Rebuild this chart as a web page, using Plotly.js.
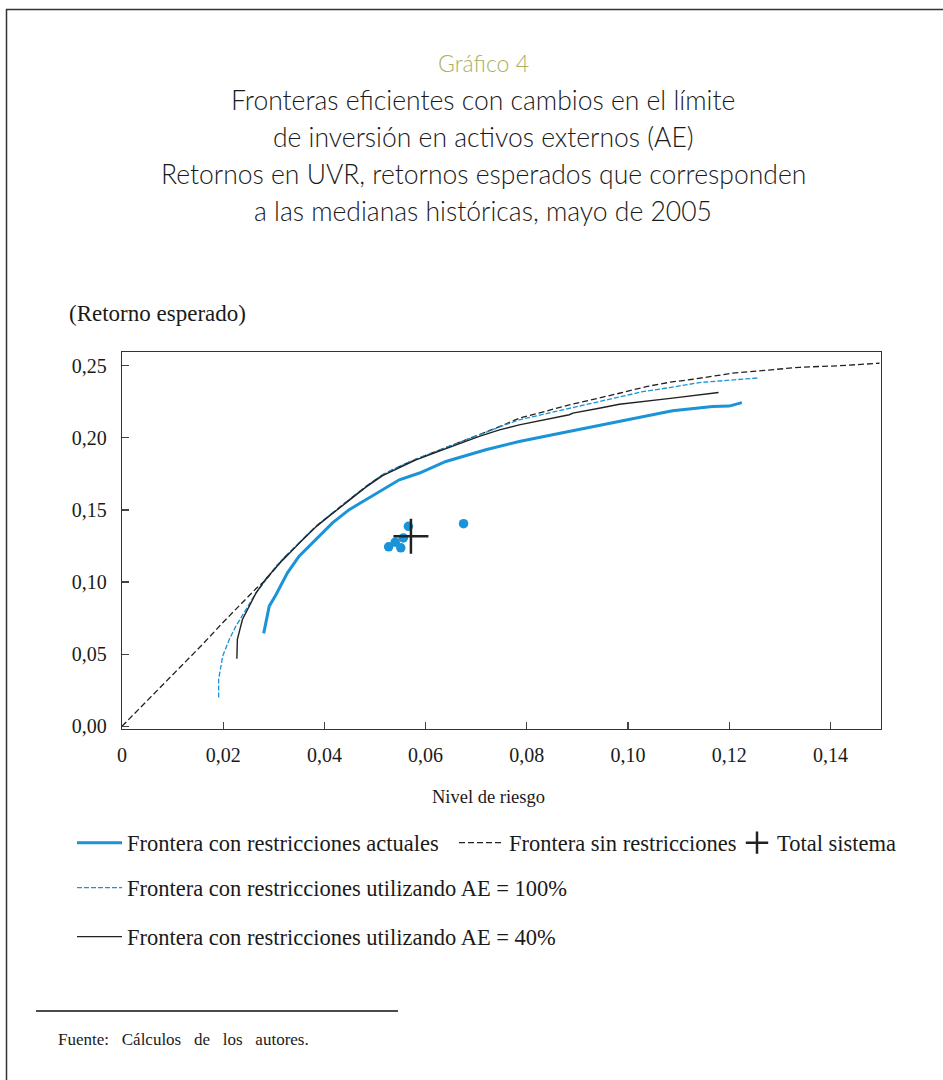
<!DOCTYPE html>
<html>
<head>
<meta charset="utf-8">
<script src="https://cdn.plot.ly/plotly-3.0.1.min.js"></script>
<style>html,body{margin:0;padding:0;background:#fff;}#chart{width:943px;height:1080px;}</style>
</head>
<body>
<div id="chart"></div>
<script>
// ---- Data ----
const sinX = [0, 0.0159, 0.0199, 0.0265, 0.0285, 0.0317, 0.0350, 0.0383, 0.0416, 0.0449, 0.0482, 0.0515, 0.0548, 0.0581, 0.0627, 0.0653, 0.0706, 0.0746, 0.0785, 0.0884, 0.0983, 0.1036, 0.1082, 0.1128, 0.1207, 0.1273, 0.1339, 0.1418, 0.1497];
const sinY = [0, 0.0567, 0.0718, 0.0955, 0.1017, 0.1156, 0.1271, 0.1386, 0.1479, 0.1571, 0.1663, 0.1744, 0.1801, 0.1852, 0.1915, 0.1950, 0.2021, 0.2077, 0.2136, 0.2228, 0.2309, 0.2355, 0.2385, 0.2406, 0.2448, 0.2466, 0.2489, 0.2500, 0.2517];

const ae100X = [0.0191, 0.0191, 0.0199, 0.0212, 0.0225, 0.0245, 0.0265, 0.0285, 0.0304, 0.0317, 0.0350, 0.0383, 0.0416, 0.0449, 0.0482, 0.0515, 0.0548, 0.0581, 0.0627, 0.0653, 0.0706, 0.0746, 0.0785, 0.0884, 0.0983, 0.1029, 0.1082, 0.1141, 0.1256];
const ae100Y = [0.0199, 0.0325, 0.0487, 0.0602, 0.0694, 0.0810, 0.0925, 0.1017, 0.1110, 0.1156, 0.1271, 0.1386, 0.1479, 0.1571, 0.1663, 0.1744, 0.1801, 0.1852, 0.1915, 0.1950, 0.2021, 0.2075, 0.2125, 0.2206, 0.2286, 0.2320, 0.2348, 0.2383, 0.2415];

const ae40X = [0.0227, 0.0228, 0.0238, 0.0252, 0.0265, 0.0285, 0.0317, 0.0350, 0.0383, 0.0416, 0.0449, 0.0482, 0.0515, 0.0548, 0.0581, 0.0627, 0.0653, 0.0706, 0.0746, 0.0785, 0.0884, 0.0891, 0.0943, 0.0983, 0.1088, 0.1179];
const ae40Y = [0.0468, 0.0602, 0.0740, 0.0833, 0.0925, 0.1025, 0.1150, 0.1268, 0.1382, 0.1475, 0.1567, 0.1658, 0.1738, 0.1795, 0.1847, 0.1908, 0.1943, 0.2010, 0.2055, 0.2090, 0.2160, 0.2171, 0.2205, 0.2233, 0.2275, 0.2314];

const actX = [0.0280, 0.0285, 0.0291, 0.0304, 0.0327, 0.0350, 0.0383, 0.0416, 0.0449, 0.0482, 0.0515, 0.0548, 0.0588, 0.0640, 0.0719, 0.0785, 0.0851, 0.0917, 0.0996, 0.1088, 0.1167, 0.1200, 0.1225];
const actY = [0.0644, 0.0740, 0.0833, 0.0910, 0.1064, 0.1179, 0.1294, 0.1410, 0.1502, 0.1571, 0.1640, 0.1709, 0.1756, 0.1836, 0.1917, 0.1974, 0.2021, 0.2067, 0.2125, 0.2187, 0.2217, 0.2220, 0.2244];

const fundX = [0.0527, 0.0540, 0.0551, 0.0556, 0.0566, 0.0675];
const fundY = [0.1244, 0.1276, 0.1237, 0.1306, 0.1386, 0.1405];

const totalX = [0.0571];
const totalY = [0.1317];

const seriesNames = [
  "Frontera con restricciones actuales",
  "Frontera sin restricciones",
  "Total sistema",
  "Frontera con restricciones utilizando AE = 100%",
  "Frontera con restricciones utilizando AE = 40%"
];
const xTickVals = [0, 0.02, 0.04, 0.06, 0.08, 0.10, 0.12, 0.14];
const xTickText = ["0", "0,02", "0,04", "0,06", "0,08", "0,10", "0,12", "0,14"];
const yTickVals = [0, 0.05, 0.10, 0.15, 0.20, 0.25];
const yTickText = ["0,00", "0,05", "0,10", "0,15", "0,20", "0,25"];
const titleLines = [
  "Gráfico 4",
  "Fronteras eficientes con cambios en el límite",
  "de inversión en activos externos (AE)",
  "Retornos en UVR, retornos esperados que corresponden",
  "a las medianas históricas, mayo de 2005"
];

// ---- Layout helpers (pixel -> paper) ----
const L = 122, R = 881, T = 352, B = 729;
const px = v => (v - L) / (R - L);
const py = v => (B - v) / (B - T);

const BLUE = "#1a93d8";
const serif = "Liberation Serif, Times New Roman, serif";
const sans = "Lato, Open Sans, sans-serif";

const traces = [
  {x: sinX, y: sinY, mode: "lines", name: seriesNames[1], legend: "legend4",
   line: {color: "#222", width: 1.3, dash: "6px,3px"}},
  {x: ae100X, y: ae100Y, mode: "lines", name: seriesNames[3], legend: "legend2",
   line: {color: BLUE, width: 1.3, dash: "5px,2px"}},
  {x: ae40X, y: ae40Y, mode: "lines", name: seriesNames[4], legend: "legend3",
   line: {color: "#222", width: 1.4}},
  {x: actX, y: actY, mode: "lines", name: seriesNames[0], legend: "legend",
   line: {color: BLUE, width: 3}},
  {x: fundX, y: fundY, mode: "markers", showlegend: false,
   marker: {color: BLUE, size: 9.5, symbol: "circle"}},
  {x: totalX, y: totalY, mode: "markers", name: seriesNames[2], legend: "legend5",
   marker: {color: "#222", size: 25, symbol: "cross-thin-open", line: {color: "#222", width: 2.5}}}
];

const annotations = [];
const titleY = [63, 100, 137, 174, 211];
titleLines.forEach((t, i) => {
  annotations.push({xref: "paper", yref: "paper", x: px(483), y: py(titleY[i]), xanchor: "center", yanchor: "middle",
    text: t, showarrow: false,
    font: {family: sans, size: i === 0 ? 23 : 26.5, weight: 300, color: i === 0 ? "#a8b061" : "#1a1a1a"}});
});
annotations.push({xref: "paper", yref: "paper", x: px(67), y: py(313), xanchor: "left", yanchor: "middle",
  text: "(Retorno esperado)", showarrow: false, font: {family: serif, size: 23, color: "#1a1a1a"}});
annotations.push({xref: "paper", yref: "paper", x: px(488), y: py(797), xanchor: "center", yanchor: "middle",
  text: "Nivel de riesgo", showarrow: false, font: {family: serif, size: 18.5, color: "#1a1a1a"}});
annotations.push({xref: "paper", yref: "paper", x: px(56), y: py(1039), xanchor: "left", yanchor: "middle",
  text: "Fuente:&nbsp;&nbsp; Cálculos&nbsp;&nbsp; de&nbsp;&nbsp; los&nbsp;&nbsp; autores.", showarrow: false, font: {family: serif, size: 17, color: "#1a1a1a"}});

const shapes = [
  {type: "line", xref: "paper", yref: "paper", x0: px(6.5), x1: px(6.5), y0: py(9), y1: py(1080), line: {color: "#333", width: 1.5}},
  {type: "line", xref: "paper", yref: "paper", x0: px(6), x1: px(943), y0: py(9.5), y1: py(9.5), line: {color: "#333", width: 1.5}},
  {type: "line", xref: "paper", yref: "paper", x0: px(36), x1: px(398), y0: py(1011), y1: py(1011), line: {color: "#111", width: 1.3}}
];

const legendBase = {orientation: "h", xanchor: "left", yanchor: "middle", bgcolor: "rgba(0,0,0,0)", itemwidth: 45,
  font: {family: serif, size: 22.5, color: "#1a1a1a"}, itemclick: false, itemdoubleclick: false, traceorder: "normal"};

const layout = {
  width: 943, height: 1080,
  margin: {l: L, r: 943 - R, t: T, b: 1080 - B, pad: 0},
  paper_bgcolor: "#fff", plot_bgcolor: "#fff",
  separators: ",.",
  font: {family: serif, size: 20, color: "#1a1a1a"},
  xaxis: {range: [0, 0.15], tickvals: xTickVals, ticktext: xTickText, ticks: "inside", ticklen: 7, tickwidth: 1.2,
    tickcolor: "#444", showline: true, linecolor: "#333", linewidth: 1.3, mirror: true, showgrid: false, zeroline: false,
    tickfont: {family: serif, size: 20, color: "#1a1a1a"}, ticklabelstandoff: 8},
  yaxis: {range: [-0.0019, 0.2595], tickvals: yTickVals, ticktext: yTickText, ticks: "inside", ticklen: 7, tickwidth: 1.2,
    tickcolor: "#444", showline: true, linecolor: "#333", linewidth: 1.3, mirror: true, showgrid: false, zeroline: false,
    tickfont: {family: serif, size: 20, color: "#1a1a1a"}, ticklabelstandoff: 10},
  legend: Object.assign({}, legendBase, {x: px(72), y: py(843)}),
  legend4: Object.assign({}, legendBase, {x: px(454), y: py(843)}),
  legend5: Object.assign({}, legendBase, {x: px(737), y: py(843), itemwidth: 30}),
  legend2: Object.assign({}, legendBase, {x: px(72), y: py(888)}),
  legend3: Object.assign({}, legendBase, {x: px(72), y: py(937)}),
  annotations: annotations,
  shapes: shapes,
  showlegend: true
};

Plotly.newPlot("chart", traces, layout, {displayModeBar: false, staticPlot: true});
</script>
</body>
</html>
